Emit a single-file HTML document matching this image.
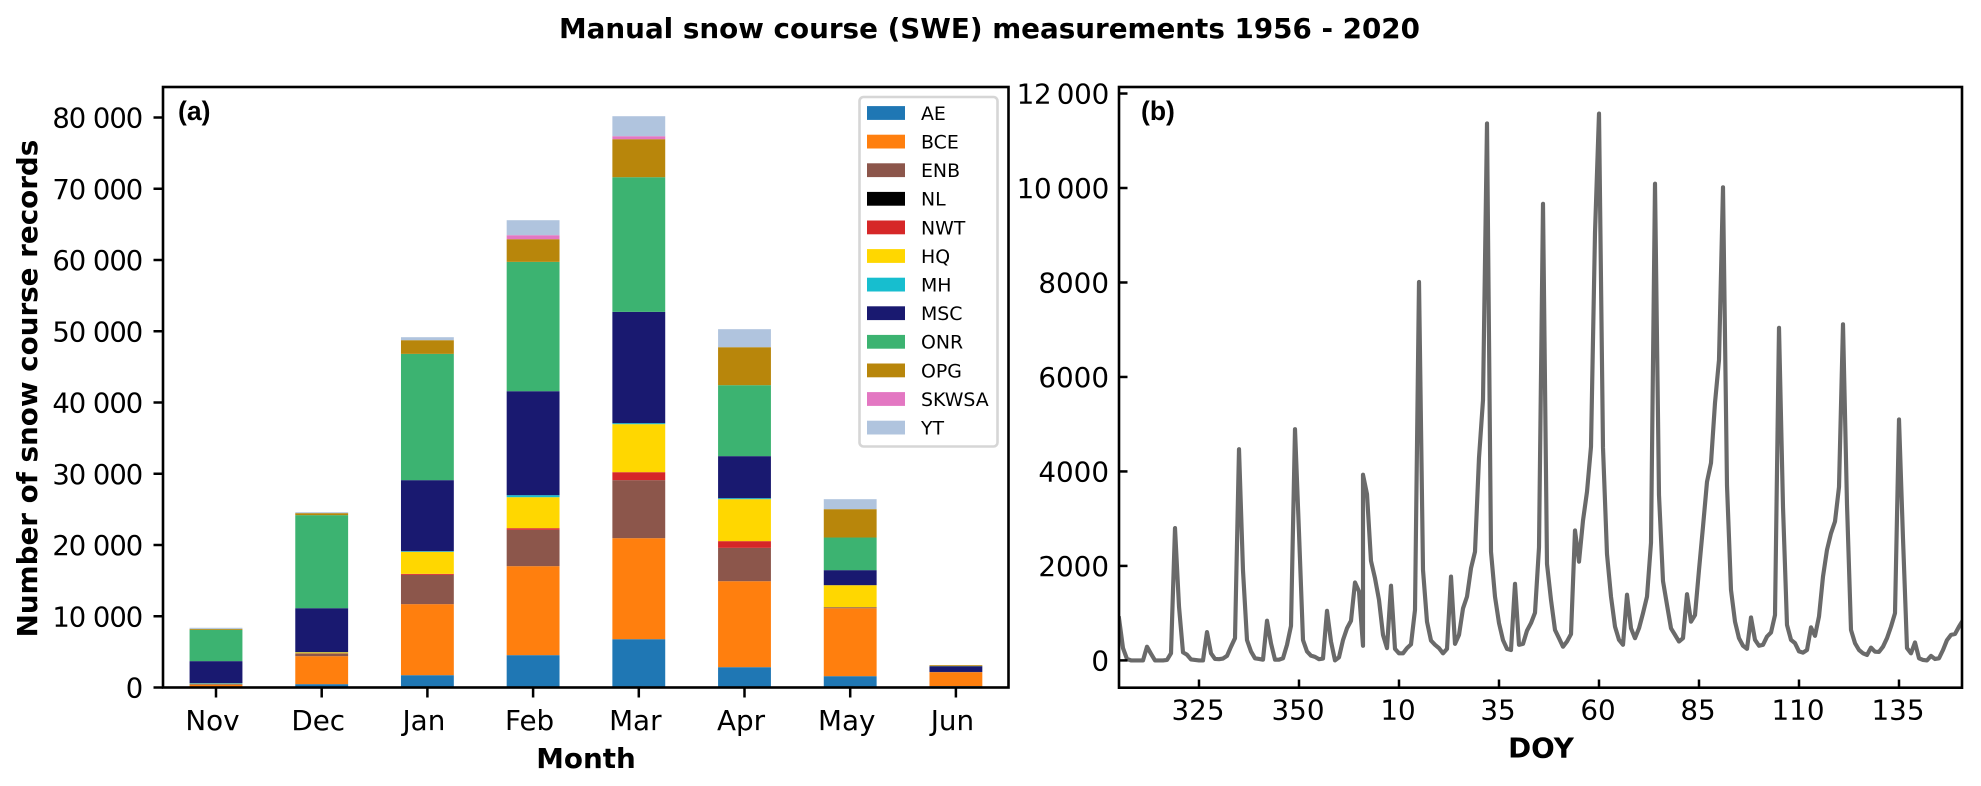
<!DOCTYPE html>
<html lang="en">
<head>
<meta charset="utf-8">
<title>Manual snow course (SWE) measurements 1956 - 2020</title>
<style>
html,body{margin:0;padding:0;background:#fff;}
svg{display:block;}
text{font-family:"DejaVu Sans","Liberation Sans",sans-serif;fill:#000;}
.tick{font-size:27.78px;}
.tick-a{font-size:27.4px;letter-spacing:-1px;}
.tick-b-wide{font-size:27.78px;letter-spacing:-0.25px;}
.lab{font-size:27.78px;font-weight:bold;}
.panel{font-family:"Liberation Sans","DejaVu Sans",sans-serif;font-size:26.5px;font-weight:bold;}
.leg{font-size:18.9px;}
</style>
</head>
<body>
<svg id="figure" xmlns="http://www.w3.org/2000/svg" width="1981" height="786" viewBox="0 0 1981 786">
  <defs>
    <clipPath id="clip-b"><rect x="1119" y="87" width="843" height="600.7"/></clipPath>
  </defs>
  <rect x="0" y="0" width="1981" height="786" fill="#fff"/>
  <text x="989.5" y="38" text-anchor="middle" class="lab">Manual snow course (SWE) measurements 1956 - 2020</text>

  <g id="panel-a">
    <g id="bars-a"></g>
    <g id="ticks-a"></g>
    <rect x="163" y="87" width="845.5" height="600.5" fill="none" stroke="#000" stroke-width="2.6"/>
    <text x="178" y="120" class="panel">(a)</text>
    <text x="586" y="768" text-anchor="middle" class="lab">Month</text>
    <text transform="translate(37 388.5) rotate(-90)" text-anchor="middle" class="lab">Number of snow course records</text>
    <g id="legend">
      <rect x="859.5" y="97" width="138" height="349.5" rx="4" ry="4" fill="#fff" stroke="#d6d6d6" stroke-width="2.6"/>
    </g>
  </g>

  <g id="panel-b">
    <g clip-path="url(#clip-b)">
      <path id="doy-line" fill="none" stroke="#6a6a6a" stroke-width="4.17" stroke-linejoin="round" stroke-linecap="square"></path>
    </g>
    <g id="ticks-b"></g>
    <rect x="1119" y="87" width="843" height="600.7" fill="none" stroke="#000" stroke-width="2.6"/>
    <text x="1141" y="120" class="panel">(b)</text>
    <text x="1541" y="757.5" text-anchor="middle" class="lab">DOY</text>
  </g>
</svg>

<script>
// ---------- Panel (a) data ----------
var months = ['Nov','Dec','Jan','Feb','Mar','Apr','May','Jun'];
var agencies = ['AE','BCE','ENB','NL','NWT','HQ','MH','MSC','ONR','OPG','SKWSA','YT'];
var agencyColors = ['#1f77b4','#ff7f0e','#8c564b','#000000','#d62728','#ffd700','#17becf','#191970','#3cb371','#b8860b','#e377c2','#b0c4de'];
var seriesAE    = [100, 470, 1730, 4540, 6780, 2850, 1590, 190];
var seriesBCE   = [250, 3930, 9970, 12490, 14180, 12070, 9540, 1960];
var seriesENB   = [100, 370, 4110, 5100, 8140, 4680, 140, 30];
var seriesNL    = [0, 0, 0, 0, 0, 0, 0, 0];
var seriesNWT   = [20, 30, 140, 230, 1120, 940, 0, 0];
var seriesHQ    = [60, 140, 3090, 4350, 6740, 5890, 3090, 0];
var seriesMH    = [70, 20, 90, 280, 140, 140, 0, 0];
var seriesMSC   = [3100, 6170, 9970, 14595, 15620, 5900, 2110, 810];
var seriesONR   = [4400, 13060, 17725, 18155, 18900, 9960, 4580, 20];
var seriesOPG   = [130, 280, 1920, 3180, 5335, 5330, 3980, 120];
var seriesSKWSA = [0, 0, 0, 560, 420, 0, 0, 0];
var seriesYT    = [150, 130, 420, 2105, 2805, 2530, 1400, 0];
var yTicksA = [0, 10000, 20000, 30000, 40000, 50000, 60000, 70000, 80000];

// ---------- Panel (b) data ----------
var yTicksB = [0, 2000, 4000, 6000, 8000, 10000, 12000];
var xTicksB = [325, 350, 10, 35, 60, 85, 110, 135];
var fallStartDoy = 305;
// records per day, DOY 305 to 366
var fallRecords = [890,260,30,0,0,0,0,290,140,0,
  0,0,10,150,2800,1140,170,120,20,10,
  0,0,600,150,30,25,40,95,290,470,
  4470,1900,430,190,45,30,15,840,360,15,
  15,45,330,730,4895,2700,430,190,100,75,
  25,40,1050,400,0,65,430,680,840,1650,
  1460,310];
// records per day, DOY 1 to 151
var springRecords = [3930,3520,2105,1740,1280,540,260,1580,245,150,
  150,260,340,1070,8010,1915,820,420,330,260,
  150,245,1775,350,540,1100,1350,1950,2300,4290,
  5510,11365,2300,1350,790,430,245,220,1620,330,
  350,630,790,1010,2390,9665,2040,1280,645,470,
  290,400,555,2750,2090,2960,3570,4525,9050,11575,
  4500,2250,1350,715,435,330,1390,680,470,680,
  1000,1350,2490,10090,3500,1680,1175,680,540,400,
  470,1400,820,960,1915,2830,3780,4180,5450,6360,
  10015,3700,1490,820,470,310,245,910,435,310,
  330,505,590,960,7040,3250,750,435,365,190,
  165,220,700,520,930,1775,2340,2690,2940,3670,
  7115,3300,645,365,220,150,115,270,185,180,
  290,470,715,1000,5100,2580,260,150,380,45,
  10,0,95,30,45,220,430,540,560,715,850];

// ---------- Axis functions ----------
var SVGNS = 'http://www.w3.org/2000/svg';
function xA(i){ return 216 + i * 105.7; }
function yA(v){ return 687.5 - v * 0.007125; }
var barWidthA = 52.85;
function doyAxis(d){ return d >= fallStartDoy ? d : d + 365; }
function xB(d){ return 1119 + (doyAxis(d) - fallStartDoy) * 4; }
function yB(v){ return 660.4 - v * 0.04724; }
function fmtA(v){ return String(v).replace(/\B(?=(\d{3})+$)/g, '\u00A0'); }
function fmtB(v){ return v >= 10000 ? String(v).replace(/\B(?=(\d{3})+$)/g, '\u2009') : String(v); }
function make(tag, attrs, parent){
  var el = document.createElementNS(SVGNS, tag);
  for (var k in attrs) el.setAttribute(k, attrs[k]);
  parent.appendChild(el);
  return el;
}

// ---------- Draw panel (a) ----------
var allSeries = [seriesAE, seriesBCE, seriesENB, seriesNL, seriesNWT, seriesHQ, seriesMH, seriesMSC, seriesONR, seriesOPG, seriesSKWSA, seriesYT];
var barsA = document.getElementById('bars-a');
months.forEach(function(m, i){
  var base = 0;
  allSeries.forEach(function(s, k){
    var v = s[i];
    if (v > 0) {
      var r = make('rect', {x: xA(i) - barWidthA / 2, y: yA(base + v), width: barWidthA, height: yA(base) - yA(base + v), fill: agencyColors[k]}, barsA);
      
      
    }
    base += v;
  });
});

var ticksA = document.getElementById('ticks-a');
yTicksA.forEach(function(v){
  var t = make('line', {x1: 153.5, x2: 163, y1: yA(v), y2: yA(v), stroke: '#000', 'stroke-width': 2.5}, ticksA);
  
  
  var l = make('text', {x: 142.2, y: yA(v) + 10, 'text-anchor': 'end', 'class': 'tick-a'}, ticksA);
  
  
  l.textContent = fmtA(v);
});
months.forEach(function(m, i){
  var t = make('line', {x1: xA(i), x2: xA(i), y1: 687.5, y2: 697.5, stroke: '#000', 'stroke-width': 2.5}, ticksA);
  
  
  var l = make('text', {x: xA(i) - 3.5, y: 730, 'text-anchor': 'middle', 'class': 'tick'}, ticksA);
  
  
  l.textContent = m;
});

// ---------- Legend ----------
var legend = document.getElementById('legend');
agencies.forEach(function(a, k){
  var cy = 113 + k * 28.6;
  var g = make('g', {}, legend);
  
  
  var sw = make('rect', {x: 867, y: cy - 6.9, width: 38, height: 13.8, fill: agencyColors[k]}, g);
  
  
  var tx = make('text', {x: 921, y: cy + 6.9, 'class': 'leg'}, g);
  
  
  tx.textContent = a;
});

// ---------- Draw panel (b) ----------
var pts = [];
fallRecords.forEach(function(v, i){
  pts.push(xB(fallStartDoy + i).toFixed(2) + ' ' + yB(v).toFixed(2));
});
springRecords.forEach(function(v, i){
  pts.push(xB(i + 1).toFixed(2) + ' ' + yB(v).toFixed(2));
});
document.getElementById('doy-line').setAttribute('d', 'M' + pts.join('L'));

var ticksB = document.getElementById('ticks-b');
yTicksB.forEach(function(v){
  var t = make('line', {x1: 1119, x2: 1127.5, y1: yB(v), y2: yB(v), stroke: '#000', 'stroke-width': 2.5}, ticksB);
  
  
  var l = make('text', {x: 1109, y: yB(v) + 10, 'text-anchor': 'end', 'class': v >= 10000 ? 'tick-b-wide' : 'tick'}, ticksB);
  
  
  l.textContent = fmtB(v);
});
xTicksB.forEach(function(d){
  var t = make('line', {x1: xB(d), x2: xB(d), y1: 679.5, y2: 687.7, stroke: '#000', 'stroke-width': 2.5}, ticksB);
  
  
  var l = make('text', {x: xB(d) - 1, y: 719.5, 'text-anchor': 'middle', 'class': 'tick'}, ticksB);
  
  
  l.textContent = String(d);
});
</script>
</body>
</html>
